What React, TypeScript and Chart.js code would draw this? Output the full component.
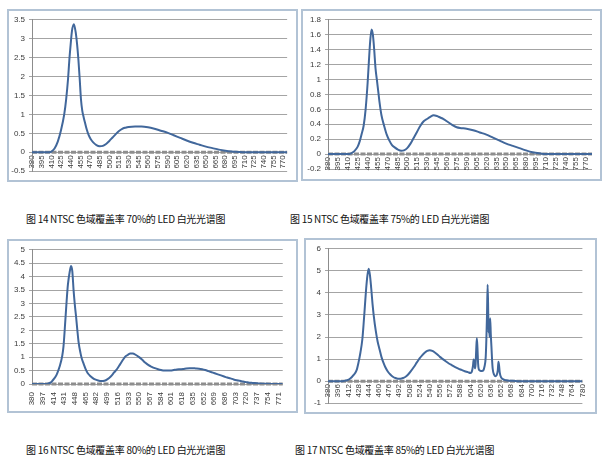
import React, { useEffect, useRef } from 'react';
import { Chart, registerables } from 'chart.js';

Chart.register(...registerables);

// ---------- Chart 1 (NTSC 70%) ----------
const wl1 = [380, 390, 400, 405, 410, 415, 420, 425, 430, 433, 436, 438, 440, 442, 445, 448, 450, 452, 454, 456, 458, 460, 462, 465, 468, 471, 475, 480, 485, 490, 495, 500, 505, 510, 515, 520, 525, 530, 540, 550, 560, 570, 580, 590, 600, 610, 620, 630, 640, 650, 660, 670, 680, 690, 700, 710, 720, 730, 740, 750, 760, 770, 776];
const v1 = [0, 0, 0, 0, 0.02, 0.1, 0.28, 0.58, 1.0, 1.4, 1.95, 2.45, 2.85, 3.2, 3.38, 3.15, 2.85, 2.45, 1.95, 1.4, 1.1, 0.94, 0.8, 0.6, 0.45, 0.35, 0.26, 0.19, 0.16, 0.17, 0.22, 0.3, 0.39, 0.48, 0.56, 0.62, 0.65, 0.67, 0.68, 0.68, 0.66, 0.62, 0.57, 0.52, 0.45, 0.38, 0.31, 0.25, 0.2, 0.15, 0.11, 0.07, 0.04, 0.02, 0.01, 0, 0, 0, 0, 0, 0, 0, 0];
const xTicks1 = [380, 395, 410, 425, 440, 455, 470, 485, 500, 515, 530, 545, 560, 575, 590, 605, 620, 635, 650, 665, 680, 695, 710, 725, 740, 755, 770];
const yTicks1 = [-0.5, 0, 0.5, 1, 1.5, 2, 2.5, 3, 3.5];

// ---------- Chart 2 (NTSC 75%) ----------
const wl2 = [380, 390, 400, 410, 415, 420, 425, 428, 431, 434, 437, 440, 442, 444, 446, 448, 450, 452, 454, 456, 458, 461, 465, 469, 473, 477, 481, 486, 491, 495, 500, 505, 510, 515, 520, 525, 530, 535, 540, 545, 550, 555, 560, 565, 570, 575, 580, 590, 600, 610, 620, 630, 640, 650, 660, 670, 680, 690, 700, 710, 720, 740, 760, 780];
const v2 = [0, 0, 0, 0, 0.01, 0.04, 0.1, 0.17, 0.27, 0.38, 0.6, 0.95, 1.25, 1.52, 1.67, 1.6, 1.4, 1.15, 1.0, 0.85, 0.7, 0.52, 0.38, 0.26, 0.18, 0.12, 0.09, 0.06, 0.045, 0.05, 0.08, 0.14, 0.22, 0.3, 0.38, 0.44, 0.47, 0.5, 0.52, 0.51, 0.49, 0.47, 0.44, 0.41, 0.38, 0.36, 0.35, 0.34, 0.32, 0.29, 0.26, 0.22, 0.18, 0.14, 0.11, 0.08, 0.05, 0.025, 0.01, 0, 0, 0, 0, 0];
const xTicks2 = [380, 395, 410, 425, 440, 455, 470, 485, 500, 515, 530, 545, 560, 575, 590, 605, 620, 635, 650, 665, 680, 695, 710, 725, 740, 755, 770];
const yTicks2 = [-0.2, 0, 0.2, 0.4, 0.6, 0.8, 1, 1.2, 1.4, 1.6, 1.8];

// ---------- Chart 3 (NTSC 80%) ----------
const wl3 = [380, 390, 400, 405, 410, 413, 417, 420, 424, 428, 430, 433, 435, 437, 440, 442, 444, 446, 448, 450, 452, 454, 457, 459, 462, 465, 468, 472, 476, 480, 485, 490, 495, 500, 505, 510, 515, 520, 525, 528, 532, 536, 540, 545, 550, 555, 560, 565, 570, 575, 580, 585, 590, 595, 600, 605, 610, 615, 620, 625, 630, 635, 640, 645, 650, 655, 660, 665, 670, 675, 680, 685, 690, 695, 700, 705, 710, 715, 720, 725, 730, 740, 750, 760, 770, 778];
const v3 = [0, 0, 0, 0.01, 0.06, 0.14, 0.26, 0.4, 0.66, 1.05, 1.4, 2.4, 3.1, 3.7, 4.2, 4.4, 4.2, 3.5, 2.95, 2.5, 2.0, 1.55, 1.15, 0.95, 0.75, 0.56, 0.42, 0.31, 0.23, 0.17, 0.13, 0.11, 0.12, 0.18, 0.28, 0.42, 0.56, 0.74, 0.92, 1.02, 1.08, 1.14, 1.14, 1.08, 1.0, 0.9, 0.79, 0.7, 0.64, 0.59, 0.55, 0.52, 0.5, 0.5, 0.5, 0.52, 0.54, 0.55, 0.56, 0.58, 0.59, 0.59, 0.58, 0.57, 0.55, 0.52, 0.48, 0.44, 0.4, 0.36, 0.32, 0.28, 0.24, 0.21, 0.17, 0.14, 0.12, 0.09, 0.07, 0.05, 0.04, 0.02, 0.01, 0, 0, 0];
const xTicks3 = [380, 397, 414, 431, 448, 465, 482, 499, 516, 533, 550, 567, 584, 601, 618, 635, 652, 669, 686, 703, 720, 737, 754, 771];
const yTicks3 = [0, 0.5, 1, 1.5, 2, 2.5, 3, 3.5, 4, 4.5, 5];

// ---------- Chart 4 (NTSC 85%) ----------
const wl4 = [380, 390, 400, 405, 410, 415, 420, 425, 428, 431, 434, 436, 438, 440, 442, 444, 446, 448, 450, 452, 455, 458, 461, 464, 467, 470, 474, 478, 482, 486, 490, 494, 498, 502, 506, 510, 515, 520, 524, 528, 532, 536, 540, 544, 548, 552, 556, 560, 565, 570, 575, 580, 585, 590, 595, 600, 604, 606, 608, 609, 610, 611, 612, 613, 614, 615, 616, 617, 619, 622, 624, 626, 628, 629, 630, 631, 632, 632.5, 633, 634, 635, 636, 637, 638, 639, 641, 643, 645, 647, 648, 649, 650, 652, 655, 660, 665, 670, 680, 690, 700, 720, 740, 760, 780];
const v4 = [0, 0, 0, 0.01, 0.04, 0.12, 0.27, 0.5, 0.85, 1.3, 1.9, 2.6, 3.4, 4.2, 4.8, 5.1, 4.8, 4.2, 3.5, 2.95, 2.3, 1.8, 1.45, 1.1, 0.85, 0.64, 0.44, 0.3, 0.2, 0.14, 0.11, 0.11, 0.14, 0.2, 0.3, 0.44, 0.64, 0.86, 1.03, 1.17, 1.29, 1.37, 1.4, 1.37, 1.3, 1.21, 1.1, 1.01, 0.9, 0.8, 0.72, 0.64, 0.57, 0.51, 0.45, 0.41, 0.37, 0.42, 0.7, 0.98, 0.85, 0.58, 0.75, 1.4, 1.95, 1.5, 0.8, 0.55, 0.48, 0.46, 0.48, 0.65, 1.1, 1.9, 3.0, 4.37, 3.0, 2.2, 2.7, 2.0, 2.85, 2.1, 1.55, 0.95, 0.55, 0.3, 0.22, 0.26, 0.5, 0.88, 0.7, 0.4, 0.18, 0.09, 0.04, 0.02, 0.02, 0, 0, 0, 0, 0, 0, 0];
const xTicks4 = [380, 396, 412, 428, 444, 460, 476, 492, 508, 524, 540, 556, 572, 588, 604, 620, 636, 652, 668, 684, 700, 716, 732, 748, 764, 780];
const yTicks4 = [-1, 0, 1, 2, 3, 4, 5, 6];

const captions = [
  '图 14 NTSC 色域覆盖率 70%的 LED 白光光谱图',
  '图 15 NTSC 色域覆盖率 75%的 LED 白光光谱图',
  '图 16 NTSC 色域覆盖率 80%的 LED 白光光谱图',
  '图 17 NTSC 色域覆盖率 85%的 LED 白光光谱图',
];

const LINE_COLOR = '#41679b';
const TEXT_COLOR = '#3a3a3a';
const TICK_FONT = { family: '"Liberation Sans", Arial, sans-serif', size: 8 };

const zeroBand = {
  id: 'zeroBand',
  beforeDatasetsDraw(chart: any) {
    const { ctx, chartArea } = chart;
    const y = chart.scales.y.getPixelForValue(0);
    ctx.save();
    ctx.strokeStyle = '#8e8e8e';
    ctx.lineWidth = 3;
    ctx.setLineDash([5, 1.5]);
    ctx.beginPath();
    ctx.moveTo(chartArea.left, y);
    ctx.lineTo(chartArea.right, y);
    ctx.stroke();
    ctx.restore();
  },
};

type PanelProps = {
  frame: { left: number; top: number; width: number; height: number };
  wl: number[];
  vals: number[];
  xTicks: number[];
  yTicks: number[];
  xMin: number;
  xMax: number;
  axisAtZero: boolean;
  yAxisWidth: number;
  xAxisHeight: number;
  pad: { top: number; right: number; bottom: number };
};

function SpectrumPanel(p: PanelProps) {
  const ref = useRef<HTMLCanvasElement>(null);
  const cw = p.frame.width - 4;
  const ch = p.frame.height - 4;

  useEffect(() => {
    if (!ref.current) return;
    const chart = new Chart(ref.current, {
      type: 'line',
      data: {
        datasets: [
          {
            data: p.wl.map((x, i) => ({ x, y: p.vals[i] })),
            borderColor: LINE_COLOR,
            borderWidth: 2,
            pointRadius: 0,
            fill: false,
            cubicInterpolationMode: 'monotone',
          },
        ],
      },
      options: {
        animation: false,
        responsive: false,
        maintainAspectRatio: false,
        layout: { padding: { left: 0, top: p.pad.top, right: p.pad.right, bottom: p.pad.bottom } },
        plugins: { legend: { display: false }, tooltip: { enabled: false } },
        scales: {
          x: {
            type: 'linear',
            min: p.xMin,
            max: p.xMax,
            position: p.axisAtZero ? ({ y: 0 } as any) : 'bottom',
            grid: { display: false, drawTicks: false },
            border: { display: false },
            afterBuildTicks: (s: any) => {
              s.ticks = p.xTicks.map((v) => ({ value: v }));
            },
            afterFit: (s: any) => {
              s.height = p.xAxisHeight;
            },
            ticks: {
              autoSkip: false,
              minRotation: 90,
              maxRotation: 90,
              padding: p.axisAtZero ? 3 : 8,
              font: TICK_FONT,
              color: TEXT_COLOR,
              callback: (v: any) => String(v),
            },
          },
          y: {
            type: 'linear',
            min: p.yTicks[0],
            max: p.yTicks[p.yTicks.length - 1],
            afterBuildTicks: (s: any) => {
              s.ticks = p.yTicks.map((v) => ({ value: v }));
            },
            afterFit: (s: any) => {
              s.width = p.yAxisWidth;
            },
            grid: { color: '#a4a4a4', lineWidth: 1, drawTicks: true, tickLength: 3 },
            border: { display: true, color: '#8c8c8c', width: 1 },
            ticks: {
              padding: 4,
              font: TICK_FONT,
              color: TEXT_COLOR,
              callback: (v: any) => String(v),
            },
          },
        },
      } as any,
      plugins: [zeroBand],
    });
    return () => chart.destroy();
  }, []);

  return (
    <div
      style={{
        position: 'absolute',
        left: p.frame.left,
        top: p.frame.top,
        width: p.frame.width,
        height: p.frame.height,
        border: '2px solid #b2c3d5',
        boxSizing: 'border-box',
        background: '#fff',
      }}
    >
      <canvas ref={ref} width={cw} height={ch} style={{ display: 'block', width: cw, height: ch }} />
    </div>
  );
}

const captionStyle = (left: number, top: number): React.CSSProperties => ({
  position: 'absolute',
  left,
  top,
  fontFamily: '"Noto Sans CJK SC", sans-serif',
  fontSize: 10,
  letterSpacing: '-0.3px',
  lineHeight: '12px',
  color: '#111',
  whiteSpace: 'nowrap',
});

export default function App() {
  return (
    <div style={{ position: 'absolute', left: 0, top: 0, width: 609, height: 466, background: '#fff', overflow: 'hidden' }}>
      <SpectrumPanel
        frame={{ left: 7, top: 9, width: 291, height: 173 }}
        wl={wl1}
        vals={v1}
        xTicks={xTicks1}
        yTicks={yTicks1}
        xMin={380}
        xMax={776}
        axisAtZero={true}
        yAxisWidth={23}
        xAxisHeight={0}
        pad={{ top: 8, right: 8, bottom: 7 }}
      />
      <SpectrumPanel
        frame={{ left: 301, top: 9, width: 301, height: 172 }}
        wl={wl2}
        vals={v2}
        xTicks={xTicks2}
        yTicks={yTicks2}
        xMin={380}
        xMax={780}
        axisAtZero={true}
        yAxisWidth={25}
        xAxisHeight={0}
        pad={{ top: 6, right: 8, bottom: 10 }}
      />
      <SpectrumPanel
        frame={{ left: 7, top: 239, width: 291, height: 174 }}
        wl={wl3}
        vals={v3}
        xTicks={xTicks3}
        yTicks={yTicks3}
        xMin={380}
        xMax={778}
        axisAtZero={false}
        yAxisWidth={23}
        xAxisHeight={27}
        pad={{ top: 4, right: 5, bottom: 0 }}
      />
      <SpectrumPanel
        frame={{ left: 304, top: 238, width: 293, height: 176 }}
        wl={wl4}
        vals={v4}
        xTicks={xTicks4}
        yTicks={yTicks4}
        xMin={380}
        xMax={780}
        axisAtZero={true}
        yAxisWidth={22}
        xAxisHeight={0}
        pad={{ top: 7, right: 8, bottom: 7 }}
      />
      <div style={captionStyle(26, 213)}>{captions[0]}</div>
      <div style={captionStyle(290, 213)}>{captions[1]}</div>
      <div style={captionStyle(26, 444)}>{captions[2]}</div>
      <div style={captionStyle(295, 444)}>{captions[3]}</div>
    </div>
  );
}
